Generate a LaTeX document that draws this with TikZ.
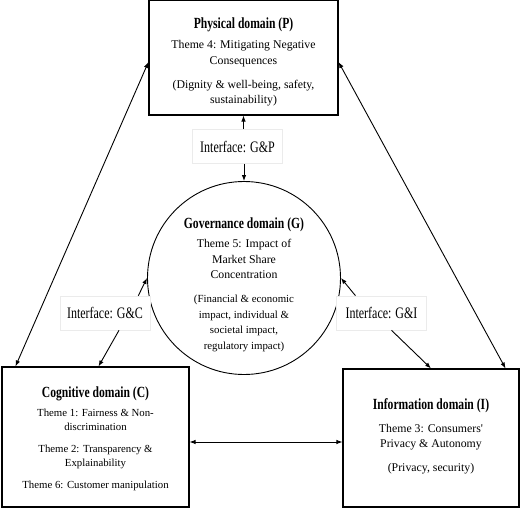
\documentclass[tikz,border=0pt]{standalone}
\usepackage{fontspec}
\setmainfont{Liberation Serif}
\newfontfamily\condbf[FakeStretch=0.75]{Liberation Serif Bold}
\newfontfamily\condrm[FakeStretch=0.75]{Liberation Serif}
\newcommand{\domtitle}{\condbf\fontsize{15.5}{16}\selectfont}
\newcommand{\smalltext}{\fontsize{10.85}{15}\selectfont}
\usetikzlibrary{positioning,arrows.meta}

\begin{document}
\begin{tikzpicture}[x=1pt,y=-1pt,
    domain_box/.style={rectangle,draw,line width=1.1pt,inner sep=0},
    dom_text/.style={align=center,inner sep=0,font=\fontsize{11.8}{15.5}\selectfont},
    iface/.style={rectangle,draw=black!8,line width=0.6pt,fill=white,inner sep=0,
        minimum width=90,minimum height=34,font=\condrm\fontsize{16}{18}\selectfont},
    arr/.style={-{Latex[length=6pt,width=4.5pt]},line width=0.9pt},
    darr/.style={{Latex[length=6pt,width=4.5pt]}-{Latex[length=6pt,width=4.5pt]},line width=0.9pt}]

    \useasboundingbox (0,0) rectangle (520,508);

    % domains
    \node[domain_box,minimum width=189,minimum height=115] (P) at (243.5,57.5) {};
    \node[circle,draw,line width=0.9pt,minimum size=193,inner sep=0] (G) at (244,278) {};
    \node[domain_box,minimum width=187,minimum height=140] (C) at (95.5,437) {};
    \node[domain_box,minimum width=176,minimum height=138] (I) at (431,438) {};

    % texts of the domains
    \node[dom_text,below=18pt of P.north] (Ptxt) {%
        {\domtitle Physical domain (P)}\\[5pt]
        Theme 4: Mitigating Negative\\
        Consequences\\[8.5pt]
        (Dignity \& well-being, safety,\\
        sustainability)};
    \node[dom_text,below=36pt of G.north] (Gtxt) {%
        {\domtitle Governance domain (G)}\\[4pt]
        Theme 5: Impact of\\
        Market Share\\
        Concentration\\[8.5pt]
        {\smalltext (Financial \& economic}\\
        {\smalltext impact, individual \&}\\
        {\smalltext societal impact,}\\
        {\smalltext regulatory impact)}};
    \node[dom_text,below=20pt of C.north,font=\fontsize{10.8}{14}\selectfont] (Ctxt) {%
        {\domtitle Cognitive domain (C)}\\[5.5pt]
        Theme 1: Fairness \& Non-\\
        discrimination\\[8pt]
        Theme 2: Transparency \&\\
        Explainability\\[8pt]
        Theme 6: Customer manipulation};
    \node[dom_text,below=30pt of I.north,font=\fontsize{11.8}{15}\selectfont] (Itxt) {%
        {\domtitle Information domain (I)}\\[7.5pt]
        Theme 3: Consumers\textquotesingle\\
        Privacy \& Autonomy\\[9pt]
        (Privacy, security)};

    % interfaces
    \node[iface] (GP) at (237.5,146.5) {Interface: G\&P};
    \node[iface] (GC) at (105,313) {Interface: G\&C};
    \node[iface] (GI) at (381.5,313) {Interface: G\&I};

    % links
    \draw[darr] ([xshift=14]C.north west) -- ([yshift=-4.5]P.west);
    \draw[darr] ([xshift=-14]I.north east) -- ([yshift=-4.5]P.east);
    \draw[darr] ([yshift=-5]C.east) -- ([yshift=-5]C.east -| I.west);

    \draw[arr] (GP.north -| P.south) -- (P.south);
    \draw[arr] (GP.south -| G.north) -- (G.north);
    \draw[arr] ([xshift=-12]GC.north east) -- (G.west);
    \draw[arr] ([xshift=14]GC.south) -- ([xshift=3]C.north);
    \draw[arr] ([xshift=-26]GI.north) -- (G.east);
    \draw[arr] ([xshift=10]GI.south) -- (I.north);
\end{tikzpicture}
\end{document}
